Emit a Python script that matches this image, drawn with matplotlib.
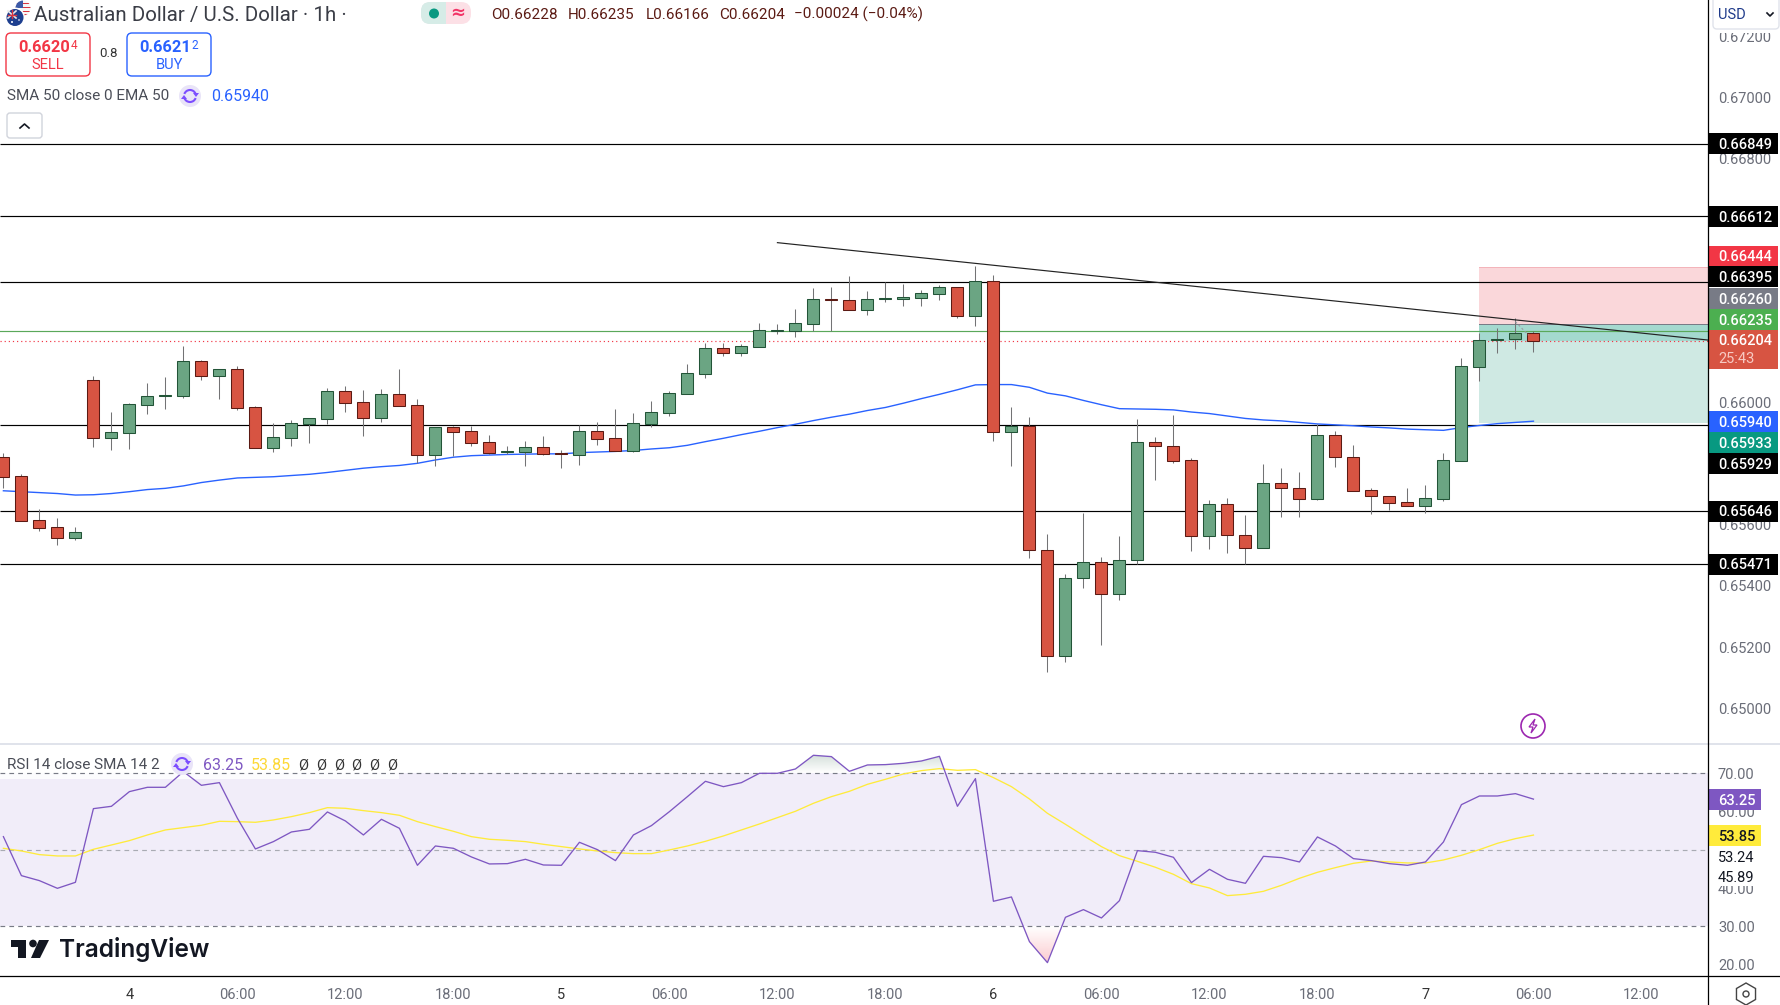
import numpy as np
import matplotlib
matplotlib.use('Agg')
import matplotlib.pyplot as plt
from matplotlib.patches import Rectangle, Circle, FancyBboxPatch, Arc, Polygon, RegularPolygon
from matplotlib.path import Path

plt.rcParams['font.family'] = ['Roboto', 'DejaVu Sans']

opens = [.65822,.65759,.65615,.65592,.65558,.66074,.65886,.65902,.65994,.66024,
         .66024,.66136,.66089,.66110,.65985,.65853,.65886,.65932,.65948,.66038,
         .66002,.65952,.66028,.65992,.65830,.65920,.65907,.65871,.65840,.65840,
         .65854,.65835,.65830,.65907,.65884,.65843,.65932,.65968,.66030,.66096,
         .66179,.66165,.66184,.66237,.66237,.66260,.66339,.66336,.66305,.66341,
         .66341,.66345,.66358,.66379,.66286,.66398,.65906,.65923,.65517,.65169,
         .65425,.65478,.65373,.65484,.65871,.65858,.65812,.65563,.65668,.65566,
         .65524,.65736,.65722,.65686,.65894,.65824,.65713,.65696,.65674,.65663,
         .65686,.65811,.66119,.66205,.66208,.66228]
highs = [.65835,.65766,.65651,.65622,.65592,.66088,.65970,.66000,.66064,.66085,
         .66186,.66139,.66110,.66121,.65990,.65934,.65944,.65949,.66048,.66055,
         .66042,.66045,.66111,.66013,.65920,.65924,.65924,.65895,.65859,.65875,
         .65891,.65846,.65929,.65937,.65980,.65967,.66005,.66039,.66127,.66196,
         .66196,.66193,.66262,.66258,.66308,.66376,.66380,.66416,.66367,.66396,
         .66390,.66370,.66386,.66379,.66449,.66419,.65987,.65954,.65570,.65439,
         .65639,.65495,.65564,.65947,.65888,.65960,.65818,.65682,.65688,.65633,
         .65800,.65787,.65774,.65930,.65907,.65862,.65721,.65696,.65721,.65731,
         .65836,.66147,.66228,.66245,.66277,.66235]
lows = [.65720,.65614,.65580,.65534,.65551,.65855,.65846,.65849,.65964,.65980,
        .66016,.66075,.66013,.65977,.65853,.65839,.65859,.65869,.65931,.65970,
        .65891,.65937,.65991,.65804,.65793,.65826,.65859,.65833,.65831,.65793,
        .65829,.65787,.65796,.65862,.65843,.65839,.65922,.65957,.66030,.66083,
        .66154,.66154,.66184,.66226,.66216,.66236,.66236,.66305,.66288,.66331,
        .66317,.66317,.66337,.66278,.66252,.65876,.65793,.65493,.65118,.65152,
        .65395,.65208,.65354,.65471,.65748,.65804,.65516,.65522,.65509,.65471,
        .65524,.65627,.65627,.65682,.65791,.65712,.65637,.65650,.65663,.65640,
        .65680,.65811,.66072,.66163,.66177,.66166]
closes = [.65758,.65614,.65591,.65558,.65576,.65886,.65904,.65995,.66021,.66025,
          .66136,.66089,.66110,.65984,.65853,.65887,.65933,.65949,.66038,.66001,
          .65952,.66028,.65991,.65830,.65920,.65906,.65870,.65837,.65842,.65854,
          .65834,.65834,.65907,.65883,.65843,.65933,.65969,.66031,.66097,.66179,
          .66165,.66185,.66238,.66238,.66261,.66339,.66338,.66305,.66339,.66343,
          .66346,.66359,.66379,.66286,.66398,.65906,.65923,.65517,.65169,.65425,
          .65478,.65373,.65484,.65871,.65858,.65811,.65563,.65668,.65566,.65524,
          .65736,.65722,.65686,.65894,.65824,.65712,.65696,.65673,.65663,.65687,
          .65812,.66120,.66205,.66208,.66228,.66204]
ema50 = [.65712,.65709,.65706,.65703,.65698,.65699,.65703,.65709,.65716,.65720,
         .65728,.65739,.65747,.65754,.65756,.65758,.65762,.65766,.65772,.65779,
         .65786,.65791,.65795,.65802,.65813,.65822,.65827,.65829,.65831,.65832,
         .65833,.65833,.65837,.65839,.65841,.65844,.65849,.65853,.65861,.65873,
         .65884,.65896,.65907,.65919,.65930,.65942,.65953,.65963,.65975,.65985,
         .65999,.66014,.66028,.66043,.66059,.66060,.66060,.66051,.66032,.66023,
         .66008,.65994,.65981,.65980,.65979,.65977,.65970,.65965,.65957,.65949,
         .65944,.65941,.65936,.65931,.65928,.65925,.65921,.65918,.65914,.65912,
         .65910,.65919,.65926,.65932,.65936,.65940]
rsi14 = [53.44,43.25,41.94,39.93,41.50,60.76,61.37,65.21,66.34,66.34,
         70.44,66.86,67.56,58.24,50.22,52.14,54.66,55.36,59.89,57.54,
         53.88,57.97,55.62,45.95,51.00,50.39,48.13,46.30,46.38,47.52,
         46.03,45.95,51.96,50.04,47.17,53.88,56.32,59.98,63.90,67.91,
         66.51,67.56,70.00,70.00,71.13,74.71,74.36,70.52,72.18,72.27,
         72.61,73.22,74.44,61.37,68.61,36.54,37.67,25.99,20.50,32.35,
         34.36,32.18,36.71,49.78,49.35,48.04,41.42,44.90,42.29,41.24,
         48.30,47.95,46.82,53.36,51.00,47.69,47.17,46.38,45.95,46.82,
         52.05,61.81,64.07,64.07,64.68,63.25]
rsi_sma = [50.39,49.70,48.74,48.39,48.39,50.13,51.26,52.40,53.88,55.19,
           55.80,56.41,57.45,57.36,57.19,57.80,58.67,59.72,61.02,60.85,
           60.24,59.72,59.02,57.36,56.06,54.84,53.44,52.75,52.48,52.14,
           51.44,50.83,50.22,49.70,49.26,49.00,49.00,49.96,51.00,52.22,
           53.62,55.19,56.75,58.41,60.07,62.16,63.90,65.29,67.12,68.43,
           69.83,70.70,71.22,70.78,70.96,68.87,66.51,63.29,59.54,56.67,
           53.70,50.83,48.47,46.99,45.43,43.59,41.15,40.02,38.02,38.37,
           39.15,40.72,42.55,44.12,45.34,46.47,47.08,46.82,46.56,46.56,
           47.34,48.56,50.04,51.70,52.92,53.85]

support_levels = [.66849,.66612,.66395,.65929,.65646,.65471]
bid_line = .66235
last_close = .66204
trend_x = [43, 94.68]
trend_y = [.66525, .66206]
stop_price = .66444
entry_price = .66260
target_price = .65933
price_ticks = [.672,.670,.668,.666,.664,.662,.660,.658,.656,.654,.652,.650]
rsi_ticks = [70, 60, 40, 30, 20]
time_ticks = [7,13,19,25,31,37,43,49,55,61,67,73,79,85,91]
time_labels = ['4','06:00','12:00','18:00','5','06:00','12:00','18:00','6','06:00','12:00','18:00','7','06:00','12:00']

UP, DOWN = '#6ba583', '#d75442'
UP_EDGE, DOWN_EDGE = '#225437', '#5b1a13'
PURPLE, YELLOW, BLUE = '#7e57c2', '#ffeb3b', '#2962ff'
GREY = '#6a6d78'
AXIS_SIZE = 10.5

W, H = 1780, 1005
AXIS_X = 1707.7
fig = plt.figure(figsize=(W/100, H/100), dpi=100)
ax = fig.add_axes([0, (H-743)/H, AXIS_X/W, 743/H])
rs = fig.add_axes([0, (H-976)/H, AXIS_X/W, 232/H])

xlim = (-0.189, 94.68)
bars = np.arange(len(opens))
o, h, l, c = map(np.array, (opens, highs, lows, closes))

# main pane
ax.add_patch(Rectangle((82, entry_price), xlim[1]-82, stop_price-entry_price, fc='#fad7da', ec='none', zorder=1))
ax.add_patch(Rectangle((82, target_price), xlim[1]-82, entry_price-target_price, fc='#cfe9e3', ec='none', zorder=1))
ax.add_patch(Rectangle((82, last_close), xlim[1]-82, entry_price-last_close, fc='#a4d9cf', ec='none', zorder=1.1))
ax.plot([82, xlim[1]], [stop_price]*2, color='#f3b4ba', lw=0.72, zorder=1.2)
ax.plot([82, xlim[1]], [entry_price]*2, color='#787b86', lw=0.72, zorder=1.2)
ax.hlines(support_levels, *xlim, color='black', lw=0.85, zorder=2)
ax.axhline(bid_line, color='#5aa85a', lw=0.85, zorder=2)
ax.axhline(last_close, color='#f23645', lw=0.85, ls=(0, (1, 2.5)), zorder=2)
ax.plot(bars, ema50, color=BLUE, lw=1.0, zorder=3)
ax.vlines(bars, l, h, color='#737375', lw=0.75, zorder=3.5)
up = c >= o
colors = [UP if u else DOWN for u in up]
edges = [UP_EDGE if u else DOWN_EDGE for u in up]
ax.bar(bars, np.abs(c-o), bottom=np.minimum(o, c), width=0.67, color=colors, edgecolor=edges, lw=0.75, zorder=4)
ax.plot(trend_x, trend_y, color='#222222', lw=0.85, zorder=5)
ax.plot([84, 84.72], [.66266, .66222], color='#9a9ca3', lw=0.8, ls=(0, (2, 2)), zorder=5)
ax.set_xlim(*xlim)
ax.set_ylim(0.66395-(743-282.33)/30519, 0.66395+282.33/30519)
ax.yaxis.tick_right()
ax.set_yticks(price_ticks)
ax.set_yticklabels(['%.5f' % p for p in price_ticks], fontsize=AXIS_SIZE, color=GREY)
ax.tick_params(axis='y', length=0, pad=7.4)
ax.set_xticks([])
for s in ax.spines.values():
    s.set_visible(False)

# rsi pane
rs.axhspan(30, 70, color='#f1edf9', lw=0, zorder=1)
rs.add_patch(Rectangle((-1, 68.5), 23, 10, fc='white', ec='none', alpha=0.85, zorder=1.2))
rs.axhline(70, color='#787b86', lw=0.85, ls=(0, (4, 3.5)), zorder=2)
rs.axhline(50, color='#a9abb3', lw=0.85, ls=(0, (4, 3.5)), zorder=2)
rs.axhline(30, color='#787b86', lw=0.85, ls=(0, (4, 3.5)), zorder=2)

def grad_fill(level, far, color, above):
    y = np.array(rsi14)
    where = y > level if above else y < level
    poly = rs.fill_between(bars, y, level, where=where, interpolate=True, alpha=0)
    rgb = matplotlib.colors.to_rgb(color)
    grad = np.zeros((64, 2, 4))
    grad[..., :3] = rgb
    grad[..., 3] = np.linspace(0, 0.26, 64)[:, None]
    lo, hi = (level, far) if above else (far, level)
    if not above:
        grad = grad[::-1]
    im = rs.imshow(grad, extent=[xlim[0], xlim[1], lo, hi], origin='lower', aspect='auto', zorder=2.5)
    im.set_clip_path(Path.make_compound_path(*poly.get_paths()), transform=rs.transData)

grad_fill(70, 75, '#4d7d68', True)
grad_fill(30, 20.5, '#f23645', False)
rs.plot(bars, rsi_sma, color=YELLOW, lw=0.95, zorder=3)
rs.plot(bars, rsi14, color=PURPLE, lw=0.95, zorder=4)
rs.set_xlim(*xlim)
rs.set_ylim(70-(976-773.3)/3.825, 70+(773.3-744)/3.825)
rs.yaxis.tick_right()
rs.set_yticks(rsi_ticks)
rs.set_yticklabels(['%.2f' % t for t in rsi_ticks], fontsize=AXIS_SIZE, color=GREY)
rs.tick_params(axis='y', length=0, pad=7.4)
rs.set_xticks(time_ticks)
rs.set_xticklabels(time_labels, fontsize=AXIS_SIZE, color=GREY)
rs.tick_params(axis='x', length=0, pad=8.5)
for lab, t in zip(rs.get_xticklabels(), time_labels):
    if ':' not in t:
        lab.set_color('#333333')
for s in rs.spines.values():
    s.set_visible(False)

# interface overlay, in screen pixels
ov = fig.add_axes([0, 0, 1, 1], zorder=10)
ov.set_xlim(0, W)
ov.set_ylim(H, 0)
ov.axis('off')
ov.patch.set_alpha(0)

ov.plot([0, W], [743.5, 743.5], color='#e0e3eb', lw=1.4)
ov.plot([0, W], [976, 976], color='black', lw=0.9)
ov.plot([AXIS_X, AXIS_X], [0, H], color='black', lw=0.9)

def box(x0, y0, x1, y1, fc='white', ec='none', r=4, lw=1.0):
    ov.add_patch(FancyBboxPatch((x0+r, y0+r), x1-x0-2*r, y1-y0-2*r, boxstyle='round,pad=%g,rounding_size=%g' % (r, r),
                                fc=fc, ec=ec, lw=lw))

def label(x, y, s, color='#131722', size=10, ha='left', **kw):
    ov.text(x, y, s, color=color, fontsize=size, ha=ha, va='center', **kw)

def badge(y0, y1, s, fc, fg='white', x1=1778):
    ov.add_patch(Rectangle((1708, y0), x1-1708, y1-y0, fc=fc, ec='none'))
    label(1718, (y0+y1)/2+1.2, s, color=fg, size=AXIS_SIZE, fontweight='medium')

for y0, y1, s, fc in [(132.7, 154, '0.66849', 'black'), (206, 226.7, '0.66612', 'black'),
                      (246, 266, '0.66444', '#f23645'), (266, 287.3, '0.66395', 'black'),
                      (288, 308.7, '0.66260', '#787b86'), (309, 330, '0.66235', '#4caf50'),
                      (411, 432, '0.65940', BLUE), (432, 453, '0.65933', '#089981'),
                      (453, 474, '0.65929', 'black'), (500.5, 521.5, '0.65646', 'black'),
                      (553.5, 574.5, '0.65471', 'black')]:
    badge(y0, y1, s, fc)
ov.add_patch(Rectangle((1708, 330), 70, 38.7, fc=DOWN, ec='none'))
label(1718, 341, '0.66204', color='white', size=AXIS_SIZE, fontweight='medium')
label(1718, 359, '25:43', color='#f7c9c2', size=AXIS_SIZE)

# rsi badges and labels
for y0, y1, s, fc, fg in [(789, 810, '63.25', PURPLE, 'white'), (825, 846, '53.85', YELLOW, '#131722')]:
    badge(y0, y1, s, fc, fg, x1=1761)
ov.add_patch(Rectangle((1709, 847), 50, 20, fc='white', ec='none'))
ov.add_patch(Rectangle((1709, 868), 50, 18, fc='white', ec='none'))
label(1718, 857.5, '53.24', size=AXIS_SIZE)
label(1718, 878, '45.89', size=AXIS_SIZE)

# usd button
ov.add_patch(Rectangle((1708.5, 0), 71.5, 33, fc='white', ec='none'))
box(1713, -6, 1779, 29, ec='#e0e3eb')
label(1718, 15, 'USD', color='#1e3a8a', size=10.5)
ov.plot([1767, 1770, 1773], [13, 16, 13], color='#131722', lw=1.2)

# header
us = Circle((23, 8), 7.5, fc='#f6f6f6', ec='none')
ov.add_patch(us)
for y in [2.5, 6.5, 10.5, 14]:
    r = Rectangle((15, y), 16, 1.8, fc='#d8343f', ec='none')
    ov.add_patch(r)
    r.set_clip_path(us)
canton = Rectangle((15, 0), 8, 8, fc='#3c5aa8', ec='none')
ov.add_patch(canton)
canton.set_clip_path(us)
ov.add_patch(Circle((15, 17.5), 10, fc='white', ec='none'))
au = Circle((15, 17.5), 8.5, fc='#1d3f8f', ec='none')
ov.add_patch(au)
ov.plot([8, 16], [11, 18], color='#e8e8e8', lw=1.2)
ov.plot([8, 16], [18, 11], color='#e8e8e8', lw=1.2)
ov.plot([8, 16], [14.5, 14.5], color='#d8343f', lw=1.0)
ov.plot([12, 12], [10, 18], color='#d8343f', lw=1.0)
ov.add_patch(Circle((12, 22), 1, fc='white', ec='none'))
ov.add_patch(Circle((19, 20), 0.8, fc='white', ec='none'))
label(34.5, 15, 'Australian Dollar / U.S. Dollar · 1h ·', color='#3a3d46', size=14.8)

box(421, 2, 471, 24, fc='#fce0e6', r=10)
box(421, 2, 446, 24, fc='#d6ece7', r=9)
ov.add_patch(Rectangle((436, 2), 10, 22, fc='#d6ece7', ec='none'))
ov.add_patch(Circle((434, 13.5), 5, fc='#089981', ec='none'))
label(457.5, 13, '≈', color='#f23668', size=13, ha='center', family=['DejaVu Sans'], fontweight='bold')

ohlc_col = DOWN_EDGE
for x, s in [(491, 'O0.66228'), (568, 'H0.66235'), (645.5, 'L0.66166'), (719, 'C0.66204'), (794, '−0.00024 (−0.04%)')]:
    label(x, 14.5, s, color=ohlc_col, size=11)

box(6, 33, 90, 76, ec='#f23645', r=5)
label(70, 47.5, '0.6620', color='#f23645', ha='right', fontweight='bold', size=11.8)
label(70.5, 45.5, '4', color='#f23645', size=8.5)
label(48, 64.5, 'SELL', color='#f23645', ha='center', size=10.5)
label(108.5, 53.7, '0.8', color='#333333', ha='center', size=9.5)
box(127, 33, 211, 76, ec=BLUE, r=5)
label(191, 47.5, '0.6621', color=BLUE, ha='right', fontweight='bold', size=11.8)
label(191.5, 45.5, '2', color=BLUE, size=8.5)
label(169, 64.5, 'BUY', color=BLUE, ha='center', size=10.5)

def sync_icon(cx, cy):
    ov.add_patch(Circle((cx, cy), 11, fc='#e9e4f8', ec='none'))
    ov.add_patch(Arc((cx, cy), 12, 12, theta1=20, theta2=160, color='#7c4dff', lw=1.5))
    ov.add_patch(Arc((cx, cy), 12, 12, theta1=200, theta2=340, color='#7c4dff', lw=1.5))
    ov.add_patch(Polygon([(cx+3, cy-3), (cx+9, cy-3), (cx+6, cy+1)], fc='#7c4dff', ec='none'))
    ov.add_patch(Polygon([(cx-3, cy+3), (cx-9, cy+3), (cx-6, cy-1)], fc='#7c4dff', ec='none'))

label(7, 96, 'SMA 50 close 0 EMA 50', color='#4a4d57', size=11)
sync_icon(190, 96)
label(211.5, 96, '0.65940', color=BLUE, size=11.5)

box(7, 113, 42, 138, ec='#d1d4dc', r=3)
ov.plot([20, 24.5, 29], [128, 124, 128], color='#131722', lw=1.2)

# rsi legend
label(7, 765, 'RSI 14 close SMA 14 2', color='#4a4d57', size=11)
sync_icon(182, 764)
label(203, 765, '63.25', color=PURPLE, size=11.5)
label(251, 765, '53.85', color='#fdd835', size=11.5)
for x in [303, 321, 339, 356, 374, 392]:
    label(x, 765, 'Ø', color='#333333', ha='center', size=10.5)

# logo
ov.add_patch(Polygon([(11, 940), (26, 940), (26, 958), (18, 958), (18, 947), (11, 947)], fc='#131722', ec='none'))
ov.add_patch(Circle((33, 943.5), 3.8, fc='#131722', ec='none'))
ov.add_patch(Polygon([(39, 940), (49, 940), (40, 958), (31, 958)], fc='#131722', ec='none'))
label(59, 949.5, 'TradingView', color='#131722', size=17.6, family=['Inter'], fontweight='semibold')

# lightning and settings icons
ov.add_patch(Circle((1533, 726), 12, fc='white', ec='#9c27b0', lw=1.2))
ov.add_patch(Polygon([(1535, 719), (1529, 727), (1533, 727), (1531, 733), (1537, 725), (1533, 725)], fc='none', ec='#9c27b0', lw=0.9))
ov.add_patch(RegularPolygon((1746, 994), 6, radius=11, fc='white', ec='#444444', lw=1.0))
ov.add_patch(Circle((1746, 994), 3, fc='white', ec='#444444', lw=1.0))

fig.savefig('out.png', dpi=100)
